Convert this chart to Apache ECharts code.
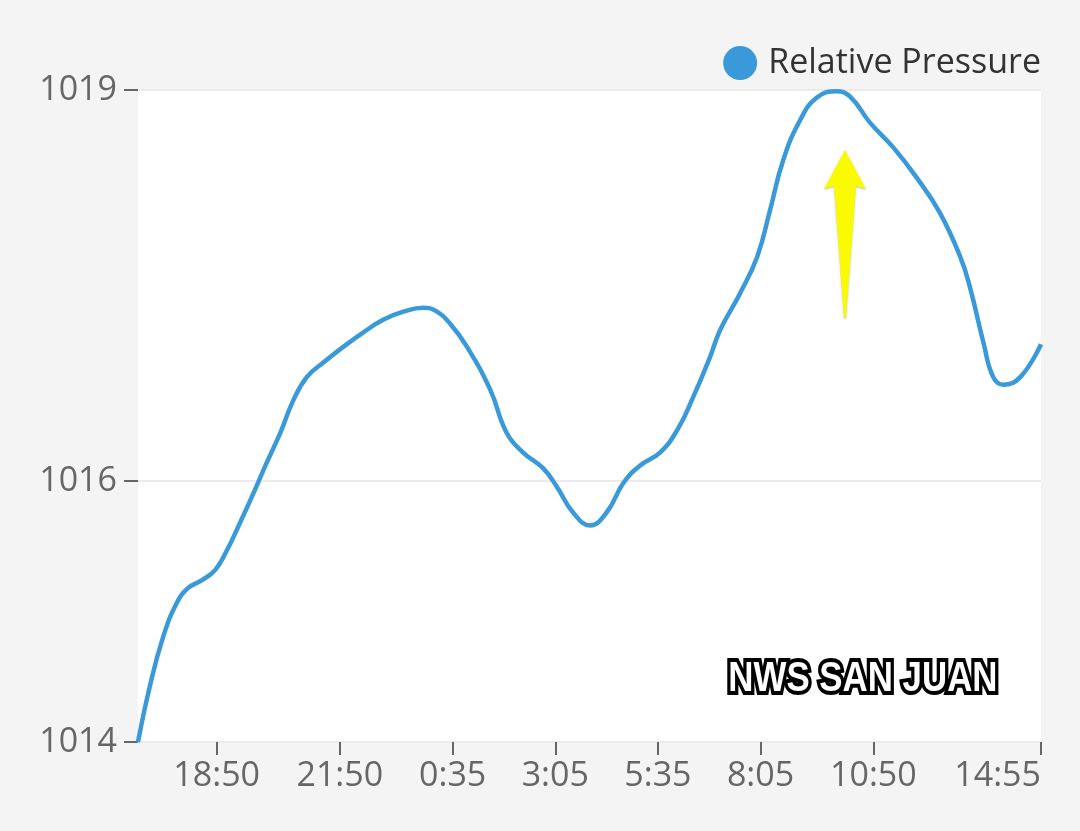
<!DOCTYPE html>
<html><head><meta charset="utf-8">
<script src="https://cdn.jsdelivr.net/npm/echarts@6/dist/echarts.min.js"></script>
<style>html,body{margin:0;padding:0;background:#f4f4f4}#c{width:1080px;height:831px}</style>
</head><body><div id="c"></div>
<script>
const seriesName = 'Relative Pressure';
const startTime = '16:55';
const endTime = '14:55';
const times = ['16:55','17:12','17:32','17:52','18:08','18:28','18:48','19:05','19:24','19:44',
  '20:03','20:23','20:42','21:02','21:26','21:55','22:24','22:54','23:23','23:52',
  '0:09','0:31','0:56','1:30','1:54','2:18','2:47','3:07','3:31','3:56',
  '4:20','4:45','5:09','5:38','6:03','6:27','6:51','7:06','7:35','8:00',
  '8:19','8:38','9:03','9:27','9:56','10:16','10:45','11:19','11:53','12:27',
  '12:57','13:11','13:31','13:45','14:00','14:25','14:55'];
const pressure = [1014.00,1014.42,1014.81,1015.07,1015.18,1015.24,1015.32,1015.47,1015.68,1015.91,
  1016.14,1016.37,1016.62,1016.80,1016.91,1017.03,1017.14,1017.24,1017.30,1017.33,
  1017.31,1017.21,1017.03,1016.70,1016.37,1016.22,1016.10,1015.96,1015.76,1015.66,
  1015.76,1015.99,1016.12,1016.22,1016.39,1016.65,1016.95,1017.16,1017.44,1017.72,
  1018.08,1018.46,1018.77,1018.94,1018.99,1018.95,1018.75,1018.56,1018.33,1018.06,
  1017.72,1017.49,1017.06,1016.80,1016.74,1016.80,1017.05];
const xTickLabels = ['18:50','21:50','0:35','3:05','5:35','8:05','10:50','14:55'];
const yTickValues = [1014, 1016, 1019];
const watermarkText = 'NWS SAN JUAN';

function clock(s){ const p = s.split(':').map(Number); return p[0]*60 + p[1]; }
const t0 = clock(startTime);
function toMin(s){ let v = clock(s); if (v < t0) v += 1440; return v - t0; }

const xTickValues = xTickLabels.map(toMin);
const lineData = times.map((t, i) => [toMin(t), pressure[i]]);

const FONT = 'Open Sans';
const chart = echarts.init(document.getElementById('c'), null, {renderer: 'canvas'});
chart.setOption({
  animation: false,
  backgroundColor: '#f4f4f4',
  grid: {left: 138, right: 39, top: 90, bottom: 89, show: true, backgroundColor: '#ffffff', borderWidth: 0, containLabel: false},
  legend: {
    data: [seriesName], right: 34, top: 41, icon: 'circle', itemWidth: 34, itemHeight: 34,
    textStyle: {fontSize: 34, color: '#333333', fontFamily: FONT, padding: [0, 0, 0, 6]}
  },
  xAxis: {
    type: 'value', min: 0, max: toMin(endTime),
    axisLine: {show: false},
    axisTick: {show: true, customValues: xTickValues, length: 13, lineStyle: {color: '#666666', width: 2}},
    axisLabel: {
      customValues: xTickValues, fontSize: 34, color: '#666666', fontFamily: FONT, margin: 17,
      alignMaxLabel: 'right',
      formatter: v => { const i = xTickValues.indexOf(v); return i >= 0 ? xTickLabels[i] : ''; }
    },
    splitLine: {show: false}
  },
  yAxis: {
    type: 'value', min: 1014, max: 1019,
    axisLine: {show: false},
    axisTick: {show: true, customValues: yTickValues, length: 14, lineStyle: {color: '#666666', width: 2}},
    axisLabel: {customValues: yTickValues, fontSize: 34, color: '#666666', fontFamily: FONT, margin: 21,
      formatter: v => String(v)},
    splitLine: {show: true, lineStyle: {color: '#ebebeb', width: 2}}
  },
  series: [{
    name: seriesName, type: 'line', data: lineData, smooth: 0.45, showSymbol: false,
    itemStyle: {color: '#3a9ad9'},
    lineStyle: {color: '#3a9ad9', width: 4.5}
  }],
  graphic: [
    {
      type: 'polygon', z: 100,
      shape: {points: [[845,150],[866,189],[856,186],[846,318],[844,318],[834,186],[824,189]]},
      style: {fill: '#fbfb00', shadowColor: 'rgba(0,0,0,0.25)', shadowBlur: 2, shadowOffsetY: 1}
    },
    {
      type: 'text', z: 100, left: 725, top: 654, scaleX: 0.83,
      style: {
        text: watermarkText, fontFamily: 'Liberation Sans', fontWeight: 'bold', fontSize: 42,
        fill: '#ffffff', stroke: '#000000', lineWidth: 8, strokeFirst: true,
        shadowColor: 'rgba(0,0,0,0.6)', shadowBlur: 5
      }
    }
  ]
});
</script></body></html>
